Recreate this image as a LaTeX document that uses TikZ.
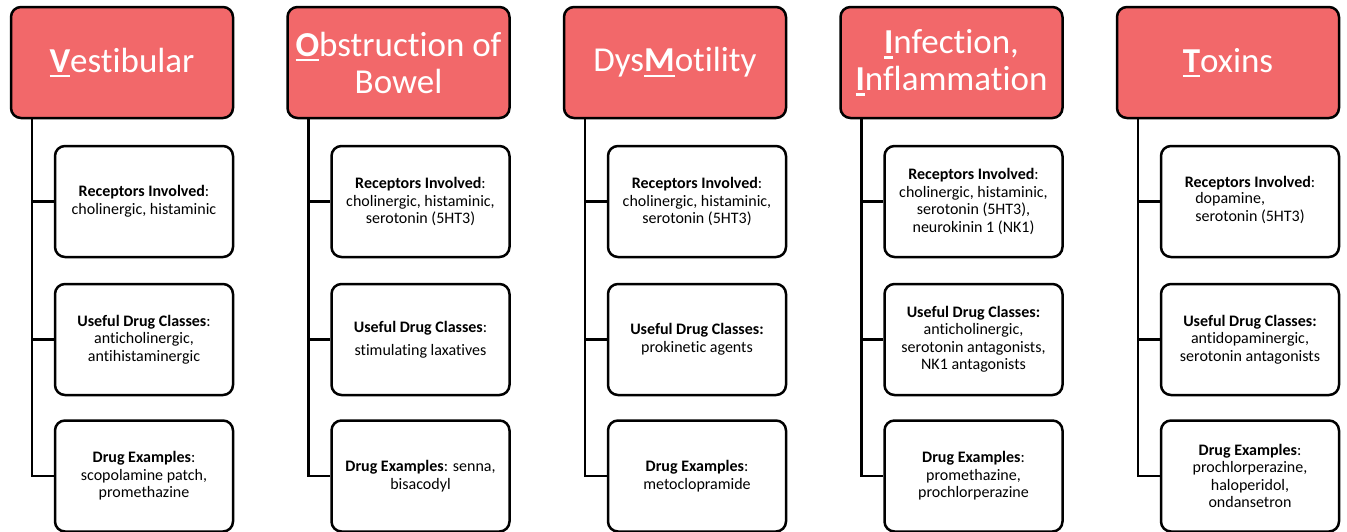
\documentclass[tikz,border=0pt]{standalone}
\usepackage{fontspec}
\setmainfont{Carlito}[Ligatures=NoCommon]
\definecolor{headred}{RGB}{242,104,106}
% first letter of a cause: bold and underlined
\newcommand\keyletter[1]{\setbox0=\hbox{\bfseries#1}\rlap{\rule[-5pt]{\wd0}{2.2pt}}\box0}

\begin{document}
\begin{tikzpicture}[x=1pt,y=-1pt,
  head/.style={draw=black,line width=2.5pt,fill=headred,rounded corners=10pt,
    minimum width=222pt,minimum height=111pt,inner sep=0pt,align=center,
    text=white,font=\fontsize{35}{37}\selectfont},
  info/.style={draw=black,line width=2.5pt,fill=white,rounded corners=10pt,
    minimum width=178pt,minimum height=111pt,inner sep=0pt,align=center,
    font=\fontsize{16}{17.5}\selectfont},
  link/.style={line width=2.5pt}]
  \useasboundingbox (0,0) rectangle (1347,531);

  % headers
  \node[head] (v) at (122,62.5) {\keyletter{V}estibular};
  \node[head] (o) at (398.5,62.5) {\keyletter{O}bstruction of\\Bowel};
  \node[head] (m) at (675,62.5) {Dys\keyletter{M}otility};
  \node[head] (i) at (951.5,62.5) {\keyletter{I}nfection,\\\keyletter{I}nflammation};
  \node[head] (t) at (1228,62.5) {\keyletter{T}oxins};

  % Vestibular
  \node[info] (v1) at (144,201.5) {\textbf{Receptors Involved}:\\cholinergic, histaminic};
  \node[info] (v2) at (144,339.5) {\textbf{Useful Drug Classes}:\\anticholinergic,\\antihistaminergic};
  \node[info] (v3) at (144,476) {\textbf{Drug Examples}:\\scopolamine patch,\\promethazine};

  % Obstruction of Bowel
  \node[info] (o1) at (420.5,201.5) {\textbf{Receptors Involved}:\\cholinergic, histaminic,\\serotonin (5HT3)};
  \node[info] (o2) at (420.5,339.5) {\textbf{Useful Drug Classes}:\\[5.5pt]stimulating laxatives};
  \node[info] (o3) at (420.5,476) {\textbf{Drug Examples}: senna,\\bisacodyl};

  % DysMotility
  \node[info] (m1) at (697,201.5) {\textbf{Receptors Involved}:\\cholinergic, histaminic,\\serotonin (5HT3)};
  \node[info] (m2) at (697,339.5) {\textbf{Useful Drug Classes:}\\prokinetic agents};
  \node[info] (m3) at (697,476) {\textbf{Drug Examples}:\\metoclopramide};

  % Infection, Inflammation
  \node[info] (i1) at (973.5,201.5) {\textbf{Receptors Involved}:\\cholinergic, histaminic,\\serotonin (5HT3),\\neurokinin 1 (NK1)};
  \node[info] (i2) at (973.5,339.5) {\textbf{Useful Drug Classes:}\\anticholinergic,\\serotonin antagonists,\\NK1 antagonists};
  \node[info] (i3) at (973.5,476) {\textbf{Drug Examples}:\\promethazine,\\prochlorperazine};

  % Toxins
  \node[info] (t1) at (1250,201.5) {\textbf{Receptors Involved}:\\\begin{tabular}{@{}l@{}}dopamine,\\serotonin (5HT3)\end{tabular}};
  \node[info] (t2) at (1250,339.5) {\textbf{Useful Drug Classes:}\\antidopaminergic,\\serotonin antagonists};
  \node[info] (t3) at (1250,476) {\textbf{Drug Examples}:\\prochlorperazine,\\haloperidol,\\ondansetron};

  % trunk lines
  \coordinate (vl) at ([xshift=22pt]v.south west);
  \coordinate (ol) at ([xshift=22pt]o.south west);
  \coordinate (ml) at ([xshift=22pt]m.south west);
  \coordinate (il) at ([xshift=22pt]i.south west);
  \coordinate (tl) at ([xshift=22pt]t.south west);
  \draw[link] (vl) |- (v3.west);
  \draw[link] (ol) |- (o3.west);
  \draw[link] (ml) |- (m3.west);
  \draw[link] (il) |- (i3.west);
  \draw[link] (tl) |- (t3.west);

  % branches
  \draw[link] (vl |- v1.west) -- (v1.west);
  \draw[link] (vl |- v2.west) -- (v2.west);
  \draw[link] (ol |- o1.west) -- (o1.west);
  \draw[link] (ol |- o2.west) -- (o2.west);
  \draw[link] (ml |- m1.west) -- (m1.west);
  \draw[link] (ml |- m2.west) -- (m2.west);
  \draw[link] (il |- i1.west) -- (i1.west);
  \draw[link] (il |- i2.west) -- (i2.west);
  \draw[link] (tl |- t1.west) -- (t1.west);
  \draw[link] (tl |- t2.west) -- (t2.west);
\end{tikzpicture}
\end{document}
